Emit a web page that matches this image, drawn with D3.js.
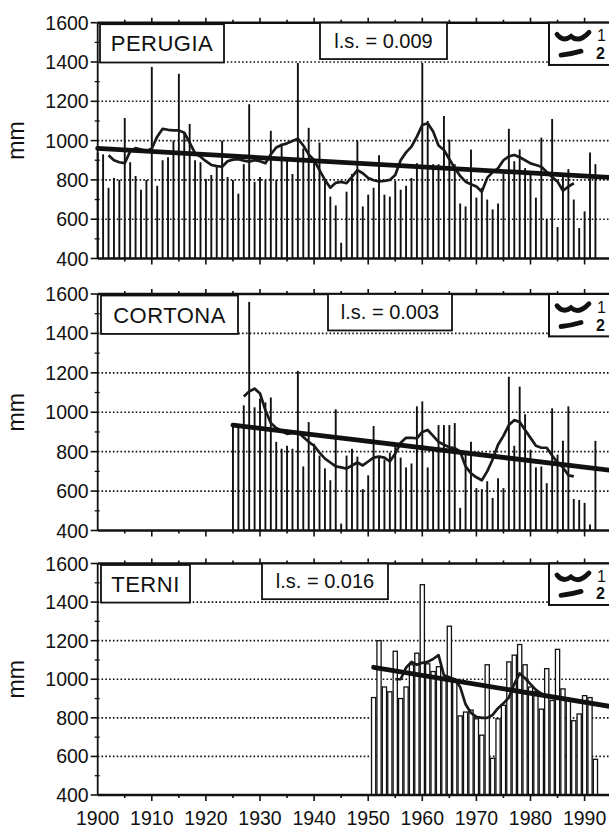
<!DOCTYPE html>
<html>
<head>
<meta charset="utf-8">
<script src="https://cdn.jsdelivr.net/npm/d3@7"></script>
<style>
body { margin: 0; background: #fff; }
text { font-family: "Liberation Sans", Arial, sans-serif; fill: #111; }
</style>
</head>
<body>
<svg id="chart" width="609" height="831"></svg>
<script>
// annual rainfall (mm), 10-yr moving mean (1) and linear trend (2)

var perugiaStart = 1900;
var perugiaRain = [940, 930, 760, 810, 800, 1115, 890, 820, 750, 800,
    1375, 770, 900, 915, 1000, 1340, 1040, 1085, 900, 890,
    805, 825, 865, 1000, 815, 800, 730, 880, 1185, 790,
    815, 800, 1050, 800, 985, 910, 830, 1395, 960, 1065,
    900, 990, 800, 715, 670, 480, 740, 830, 1000, 665,
    725, 760, 925, 725, 715, 795, 750, 770, 810, 885,
    1395, 1100, 880, 880, 1125, 1005, 880, 680, 665, 955,
    710, 760, 700, 650, 680, 830, 1060, 895, 955, 860,
    830, 710, 1015, 600, 1110, 560, 835, 855, 700, 555,
    640, 940, 880];
var perugiaMaStart = 1902;
var perugiaMa = [925, 900, 890, 885, 945, 962, 955, 945, 960, 1020,
    1060, 1055, 1052, 1052, 1040, 990, 935, 918, 895, 876,
    870, 867, 895, 903, 905, 898, 893, 900, 895, 885,
    930, 965, 978, 986, 998, 1010, 975, 930, 900, 850,
    800, 760, 785, 790, 783, 815, 850, 834, 810, 798,
    792, 795, 800, 825, 900, 940, 969, 1020, 1079, 1088,
    1046, 975, 952, 905, 860, 820, 791, 778, 766, 740,
    810, 840, 859, 900, 920, 927, 915, 900, 884, 876,
    867, 840, 815, 791, 745, 766, 783];
var perugiaTrend = [[1900, 960], [1995, 812]];

var cortonaStart = 1925;
var cortonaRain = [945, 935, 1035, 1560, 1025, 1070, 1050, 1075, 850, 815,
    830, 815, 1210, 725, 950, 840, 780, 715, 655, 1015,
    435, 780, 815, 775, 610, 680, 930, 770, 760, 795,
    835, 770, 720, 740, 1030, 1055, 720, 810, 935, 935,
    935, 945, 515, 800, 850, 615, 610, 650, 565, 665,
    615, 1180, 830, 1130, 990, 810, 720, 725, 640, 1020,
    785, 855, 1030, 560, 555, 540, 430, 855];
var cortonaMaStart = 1927;
var cortonaMa = [1080, 1105, 1120, 1095, 1010, 945, 920, 905, 890, 895,
    900, 875, 850, 830, 795, 765, 745, 725, 720, 714,
    730, 745, 730, 750, 770, 775, 770, 750, 790, 845,
    870, 870, 868, 900, 910, 880, 850, 835, 822, 818,
    800, 725, 690, 670, 655, 700, 760, 835, 880, 935,
    960, 950, 910, 870, 830, 820, 820, 780, 745, 720,
    680, 675];
var cortonaTrend = [[1925, 935], [1995, 705]];

var terniStart = 1951;
var terniRain = [905, 1200, 960, 935, 1145, 900, 960, 1075, 1135, 1490,
    1080, 1040, 1065, 1005, 1275, 995, 810, 830, 840, 795,
    710, 1075, 590, 795, 865, 1090, 1125, 1180, 1075, 960,
    935, 845, 1055, 890, 1155, 950, 900, 785, 820, 915,
    905, 585];
var terniMaStart = 1955;
var terniMa = [1000, 1000, 1060, 1090, 1075, 1085, 1090, 1105, 1125, 1020,
    1010, 1000, 960, 870, 825, 805, 800, 800, 815, 850,
    875, 905, 975, 1030, 1005, 975, 945, 925, 915, 905,
    900, 905];
var terniTrend = [[1951, 1062], [1995, 858]];

var yTicks = [400, 600, 800, 1000, 1200, 1400, 1600];
var gridValues = [600, 800, 1000, 1200, 1400];
var decadeLabels = [1900, 1910, 1920, 1930, 1940, 1950, 1960, 1970, 1980, 1990];

var svg = d3.select("#chart");
var x = d3.scaleLinear().domain([1900, 1990]).range([97.7, 584.6]);
var xEnd = 612;

var panels = [
    { name: "PERUGIA", start: perugiaStart, rain: perugiaRain, maStart: perugiaMaStart, ma: perugiaMa,
      trend: perugiaTrend, ls: "l.s. = 0.009", top: 22.7, bottom: 258.5, nameBox: [100, 224], lsBox: [320, 447], open: false },
    { name: "CORTONA", start: cortonaStart, rain: cortonaRain, maStart: cortonaMaStart, ma: cortonaMa,
      trend: cortonaTrend, ls: "l.s. = 0.003", top: 294, bottom: 530.5, nameBox: [101, 238], lsBox: [328, 452], open: false },
    { name: "TERNI", start: terniStart, rain: terniRain, maStart: terniMaStart, ma: terniMa,
      trend: terniTrend, ls: "l.s. = 0.016", top: 563.5, bottom: 795, nameBox: [101, 190], lsBox: [262, 388], open: true }
];

panels.forEach(function(p, i) { drawPanel(p, i == panels.length - 1); });

function drawPanel(p, lastPanel)
{
    var y = d3.scaleLinear().domain([400, 1600]).range([p.bottom, p.top]);
    var g = svg.append("g");
    var x0 = x(1900);

    // dotted grid
    g.selectAll("line.grid").data(gridValues).enter().append("line")
        .attr("x1", x0).attr("x2", xEnd)
        .attr("y1", function(d) { return y(d); })
        .attr("y2", function(d) { return y(d); })
        .attr("stroke", "#111").attr("stroke-width", 1.6)
        .attr("stroke-dasharray", "1.6,2.2");

    // bars
    var bars = p.rain.map(function(v, k) { return { year: p.start + k, value: v }; });
    if (p.open)
    {
        g.selectAll("rect.bar").data(bars).enter().append("rect")
            .attr("x", function(d) { return x(d.year) - 2.1; })
            .attr("width", 4.2)
            .attr("y", function(d) { return y(d.value); })
            .attr("height", function(d) { return y(400) - y(d.value); })
            .attr("fill", "#fff").attr("stroke", "#111").attr("stroke-width", 1.3);
    }
    else
    {
        g.selectAll("line.bar").data(bars).enter().append("line")
            .attr("x1", function(d) { return x(d.year); })
            .attr("x2", function(d) { return x(d.year); })
            .attr("y1", function(d) { return y(d.value); })
            .attr("y2", y(400))
            .attr("stroke", "#111").attr("stroke-width", 1.9);
    }

    // moving mean (1)
    var ma = p.ma.map(function(v, k) { return [p.maStart + k, v]; });
    g.append("path")
        .attr("d", d3.line().x(function(d) { return x(d[0]); }).y(function(d) { return y(d[1]); })(ma))
        .attr("fill", "none").attr("stroke", "#1a1a1a").attr("stroke-width", 2.7)
        .attr("stroke-linejoin", "round");

    // trend (2)
    g.append("path")
        .attr("d", d3.line().x(function(d) { return x(d[0]); }).y(function(d) { return y(d[1]); })(p.trend))
        .attr("fill", "none").attr("stroke", "#111").attr("stroke-width", 4.8)
        .attr("stroke-linecap", "round");

    // frame
    g.append("line").attr("x1", x0).attr("x2", xEnd).attr("y1", y(1600)).attr("y2", y(1600))
        .attr("stroke", "#111").attr("stroke-width", 2.6);
    g.append("line").attr("x1", x0).attr("x2", xEnd).attr("y1", y(400)).attr("y2", y(400))
        .attr("stroke", "#111").attr("stroke-width", 2.4);
    g.append("line").attr("x1", x0).attr("x2", x0).attr("y1", y(1600)).attr("y2", y(400))
        .attr("stroke", "#111").attr("stroke-width", 1.8);

    // y ticks
    var yMinor = d3.range(500, 1600, 200);
    g.selectAll("line.yt").data(yTicks).enter().append("line")
        .attr("x1", x0 - 7).attr("x2", x0)
        .attr("y1", function(d) { return y(d); }).attr("y2", function(d) { return y(d); })
        .attr("stroke", "#111").attr("stroke-width", 1.6);
    g.selectAll("line.ym").data(yMinor).enter().append("line")
        .attr("x1", x0 - 3).attr("x2", x0 + 2)
        .attr("y1", function(d) { return y(d); }).attr("y2", function(d) { return y(d); })
        .attr("stroke", "#111").attr("stroke-width", 1.3);
    g.selectAll("text.yl").data(yTicks).enter().append("text")
        .attr("x", x0 - 9).attr("y", function(d) { return y(d) + 7; })
        .attr("text-anchor", "end").attr("font-size", 19.5)
        .text(function(d) { return d; });

    // x ticks on top (up) and bottom (down)
    var xt = d3.range(1905, 1996, 5);
    g.selectAll("line.xtt").data(xt).enter().append("line")
        .attr("x1", function(d) { return x(d); }).attr("x2", function(d) { return x(d); })
        .attr("y1", y(1600)).attr("y2", function(d) { return y(1600) - (d % 10 == 0 ? 5 : 3); })
        .attr("stroke", "#111").attr("stroke-width", 1.6);
    g.selectAll("line.xtb").data(xt).enter().append("line")
        .attr("x1", function(d) { return x(d); }).attr("x2", function(d) { return x(d); })
        .attr("y1", y(400)).attr("y2", function(d) { return y(400) + (d % 10 == 0 ? 6 : 3); })
        .attr("stroke", "#111").attr("stroke-width", 1.6);

    // mm
    var ym = (p.top + p.bottom) / 2;
    g.append("text")
        .attr("transform", "translate(24," + ym + ") rotate(-90)")
        .attr("text-anchor", "middle").attr("font-size", 23)
        .text("mm");

    // station box
    var bTop = y(1600) + 1.5, bBot = y(1400) + 0.5;
    g.append("rect")
        .attr("x", p.nameBox[0]).attr("y", bTop)
        .attr("width", p.nameBox[1] - p.nameBox[0]).attr("height", bBot - bTop)
        .attr("fill", "#fff").attr("stroke", "#111").attr("stroke-width", 1.8);
    g.append("text")
        .attr("x", (p.nameBox[0] + p.nameBox[1]) / 2).attr("y", (bTop + bBot) / 2 + 8)
        .attr("text-anchor", "middle").attr("font-size", 22)
        .attr("letter-spacing", 0.5)
        .text(p.name);

    // l.s. box
    var lBot = y(1415);
    g.append("rect")
        .attr("x", p.lsBox[0]).attr("y", y(1600))
        .attr("width", p.lsBox[1] - p.lsBox[0]).attr("height", lBot - y(1600))
        .attr("fill", "#fff").attr("stroke", "#111").attr("stroke-width", 1.8);
    g.append("text")
        .attr("x", (p.lsBox[0] + p.lsBox[1]) / 2).attr("y", (y(1600) + lBot) / 2 + 7)
        .attr("text-anchor", "middle").attr("font-size", 20)
        .text(p.ls);

    // legend box
    var gBot = y(1385), lx = 549;
    g.append("rect")
        .attr("x", lx).attr("y", y(1600))
        .attr("width", 70).attr("height", gBot - y(1600))
        .attr("fill", "#fff").attr("stroke", "#111").attr("stroke-width", 2);
    var r1 = y(1600) + (gBot - y(1600)) * 0.3, r2 = y(1600) + (gBot - y(1600)) * 0.72;
    g.append("path")
        .attr("d", "M" + (lx + 8) + "," + (r1 - 1) + " Q" + (lx + 14) + "," + (r1 + 7) + " " + (lx + 22) + "," + (r1 + 1)
            + " Q" + (lx + 30) + "," + (r1 + 8) + " " + (lx + 40) + "," + (r1 - 3))
        .attr("fill", "none").attr("stroke", "#111").attr("stroke-width", 4.8).attr("stroke-linecap", "round");
    g.append("path")
        .attr("d", "M" + (lx + 12) + "," + (r2 + 2) + " Q" + (lx + 22) + "," + (r2 + 1) + " " + (lx + 32) + "," + (r2 - 2))
        .attr("fill", "none").attr("stroke", "#111").attr("stroke-width", 4.8).attr("stroke-linecap", "round");
    g.append("text").attr("x", lx + 48).attr("y", r1 + 6).attr("font-size", 16).text("1");
    g.append("text").attr("x", lx + 47).attr("y", r2 + 6).attr("font-size", 16).attr("font-weight", "bold").text("2");

    if (lastPanel)
    {
        g.selectAll("text.xl").data(decadeLabels).enter().append("text")
            .attr("x", function(d) { return x(d); }).attr("y", 825)
            .attr("text-anchor", "middle").attr("font-size", 19.5)
            .text(function(d) { return d; });
    }
}
</script>
</body>
</html>
